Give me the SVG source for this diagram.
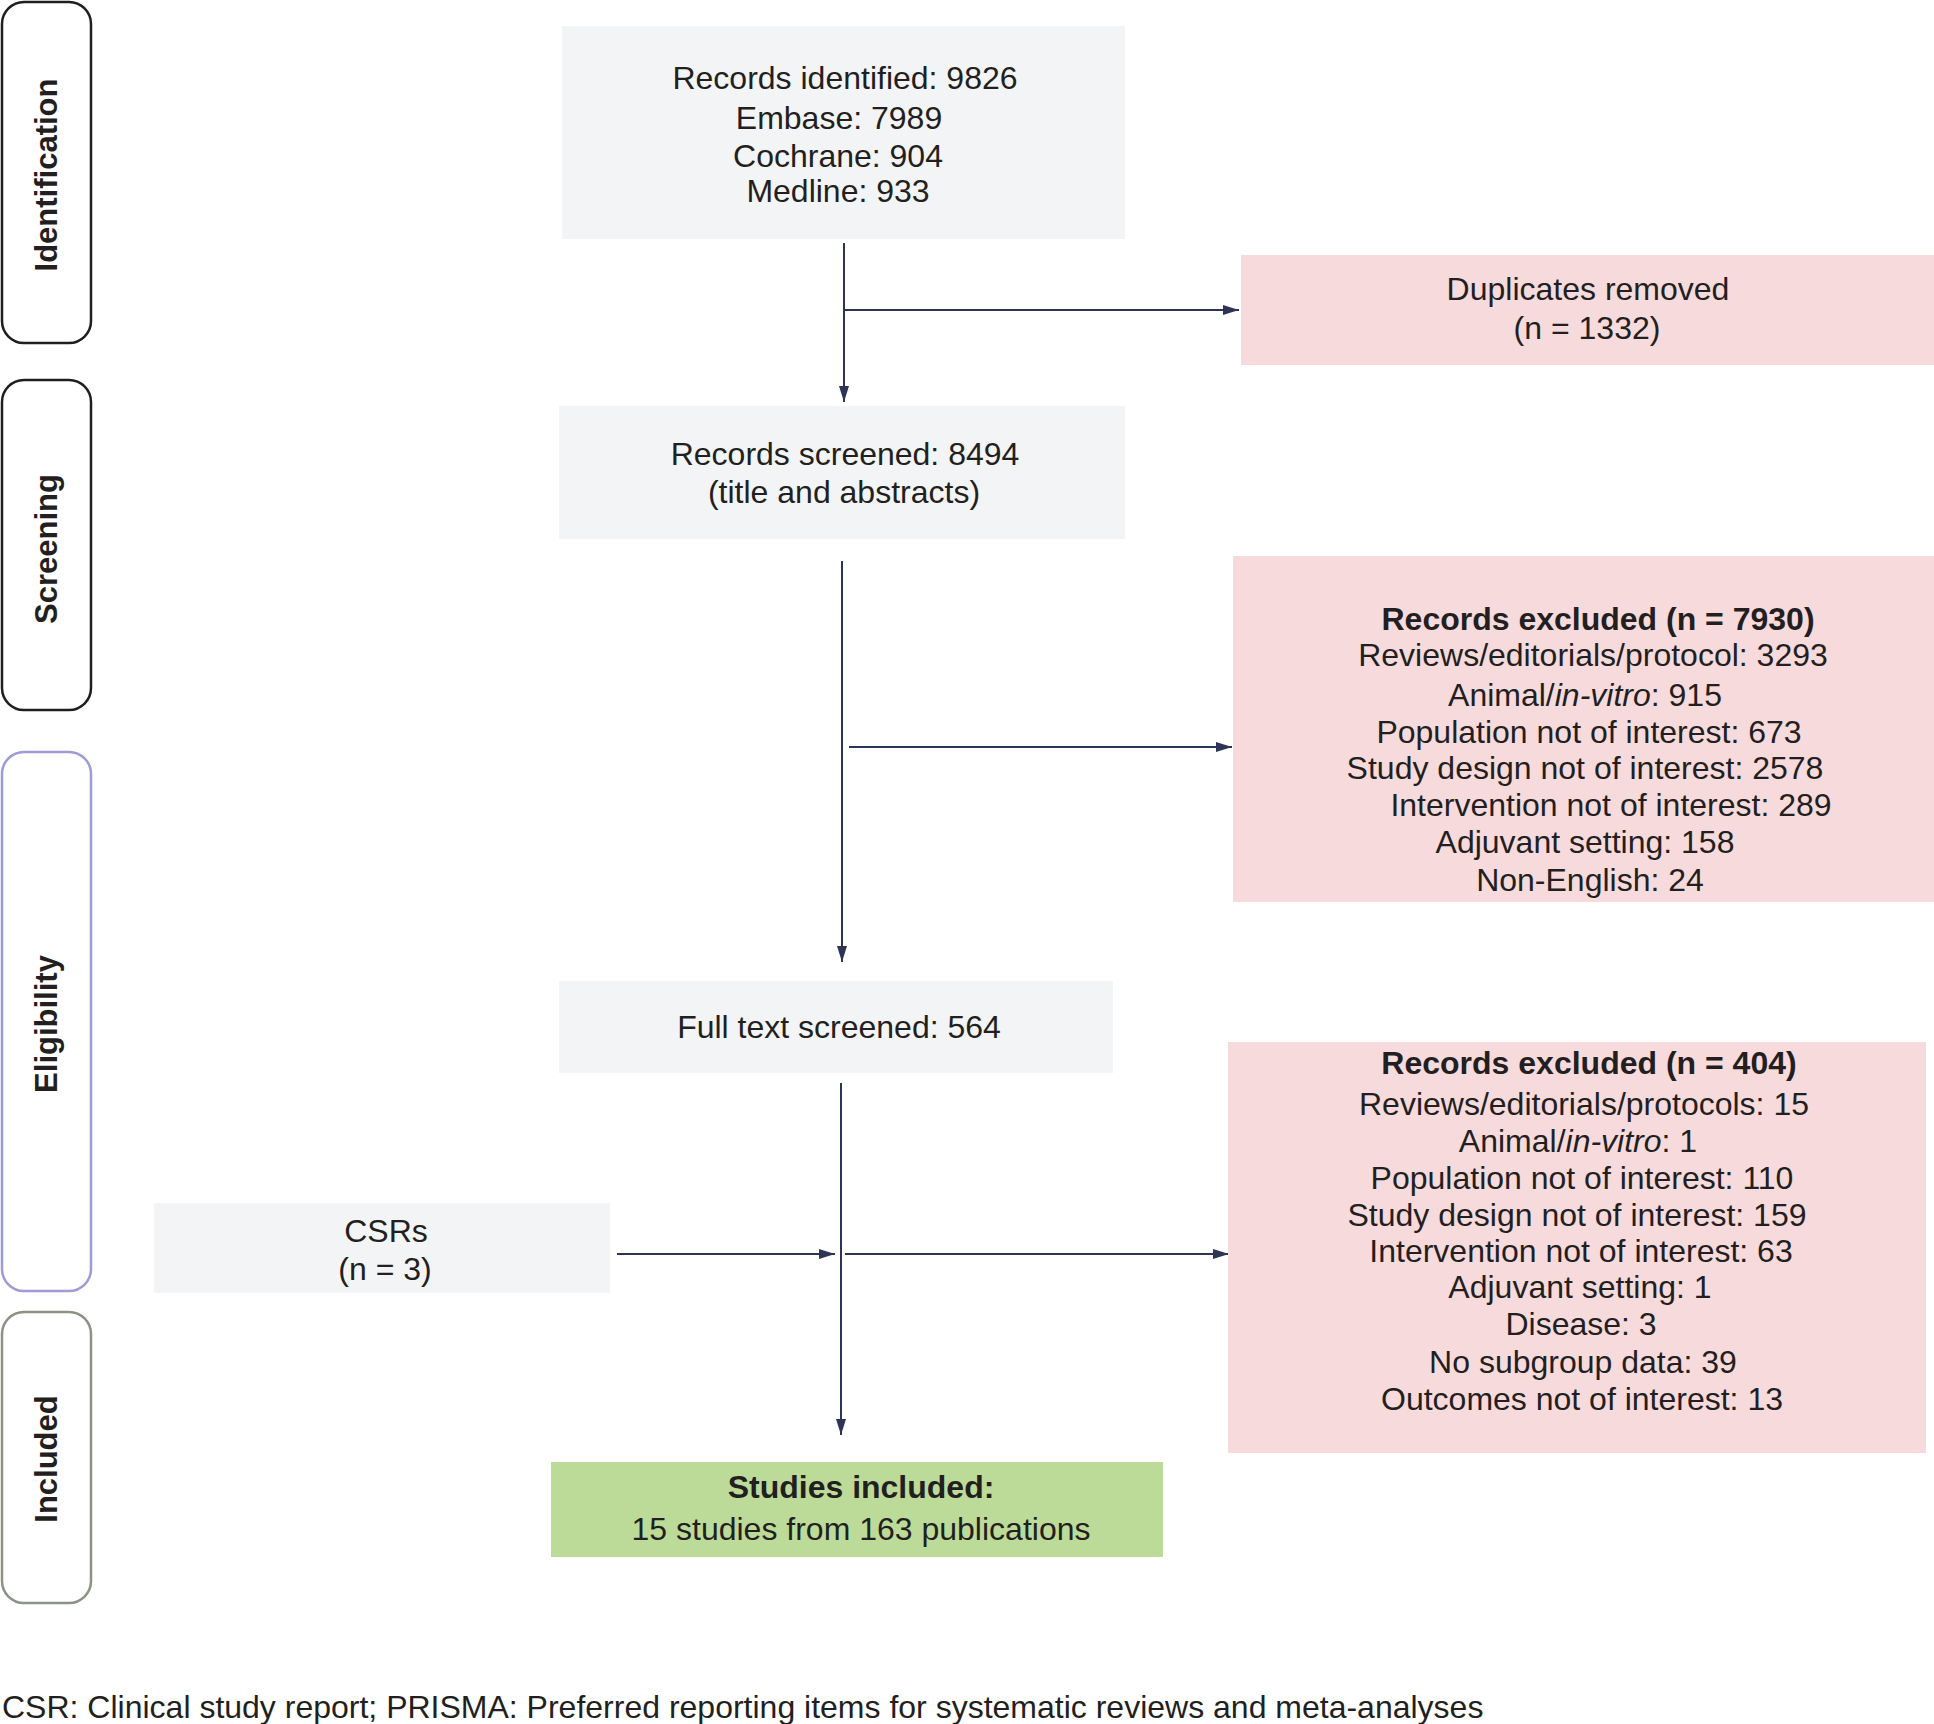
<svg xmlns="http://www.w3.org/2000/svg" width="1934" height="1724" viewBox="0 0 1934 1724">
<style>
text{font-family:"Liberation Sans",Arial,sans-serif;font-size:32px;fill:#231f20;text-anchor:middle}
.b{font-weight:bold}
.ph{font-weight:bold;font-size:31px}
.phase{fill:#fff;stroke-width:2.5}
.gray{fill:#f3f4f6}
.pink{fill:#f7dadc}
.green{fill:#bddb98}
.conn{stroke:#2e3456;stroke-width:2;fill:none}
.it{font-style:italic}
</style>
<defs>
<marker id="ah" markerUnits="userSpaceOnUse" markerWidth="17" markerHeight="11" refX="16" refY="5" orient="auto">
<path d="M0,0 L16,5 L0,10 z" fill="#2e3456"/>
</marker>
</defs>
<g id="phase-identification">
<rect class="phase" x="2" y="2" width="89" height="341" rx="22" stroke="#1f1f1f"/>
<text class="ph" transform="translate(57,175) rotate(-90)">Identification</text>
</g>
<g id="phase-screening">
<rect class="phase" x="2" y="380" width="89" height="330" rx="22" stroke="#1f1f1f"/>
<text class="ph" transform="translate(57,549) rotate(-90)">Screening</text>
</g>
<g id="phase-eligibility">
<rect class="phase" x="2" y="752" width="89" height="539" rx="22" stroke="#9d9bd8"/>
<text class="ph" transform="translate(57,1024) rotate(-90)">Eligibility</text>
</g>
<g id="phase-included">
<rect class="phase" x="2" y="1312" width="89" height="291" rx="22" stroke="#8c9284"/>
<text class="ph" transform="translate(57,1459) rotate(-90)">Included</text>
</g>
<g id="connectors">
<line class="conn" x1="844" y1="243" x2="844" y2="402" marker-end="url(#ah)"/>
<line class="conn" x1="844" y1="310" x2="1239" y2="310" marker-end="url(#ah)"/>
<line class="conn" x1="842" y1="561" x2="842" y2="962" marker-end="url(#ah)"/>
<line class="conn" x1="849" y1="747" x2="1232" y2="747" marker-end="url(#ah)"/>
<line class="conn" x1="841" y1="1083" x2="841" y2="1435" marker-end="url(#ah)"/>
<line class="conn" x1="617" y1="1254" x2="835" y2="1254" marker-end="url(#ah)"/>
<line class="conn" x1="845" y1="1254" x2="1229" y2="1254" marker-end="url(#ah)"/>
</g>
<g id="node-identified">
<rect class="gray" x="562" y="26" width="563" height="213"/>
<text x="845" y="89">Records identified: 9826</text>
<text x="839" y="129">Embase: 7989</text>
<text x="838" y="167">Cochrane: 904</text>
<text x="838" y="202">Medline: 933</text>
</g>
<g id="node-duplicates">
<rect class="pink" x="1241" y="255" width="693" height="110"/>
<text x="1588" y="300">Duplicates removed</text>
<text x="1587" y="339">(n = 1332)</text>
</g>
<g id="node-screened">
<rect class="gray" x="559" y="406" width="566" height="133"/>
<text x="845" y="465">Records screened: 8494</text>
<text x="844" y="503">(title and abstracts)</text>
</g>
<g id="node-excluded-1">
<rect class="pink" x="1233" y="556" width="701" height="346"/>
<text class="b" x="1598" y="630">Records excluded (n = 7930)</text>
<text x="1593" y="666">Reviews/editorials/protocol: 3293</text>
<text x="1585" y="706">Animal/<tspan class="it">in-vitro</tspan>: 915</text>
<text x="1589" y="743">Population not of interest: 673</text>
<text x="1585" y="779">Study design not of interest: 2578</text>
<text x="1611" y="816">Intervention not of interest: 289</text>
<text x="1585" y="853">Adjuvant setting: 158</text>
<text x="1590" y="891">Non-English: 24</text>
</g>
<g id="node-fulltext">
<rect class="gray" x="559" y="981" width="554" height="92"/>
<text x="839" y="1038">Full text screened: 564</text>
</g>
<g id="node-excluded-2">
<rect class="pink" x="1228" y="1042" width="698" height="411"/>
<text class="b" x="1589" y="1074">Records excluded (n = 404)</text>
<text x="1584" y="1115">Reviews/editorials/protocols: 15</text>
<text x="1578" y="1152">Animal/<tspan class="it">in-vitro</tspan>: 1</text>
<text x="1582" y="1189">Population not of interest: 110</text>
<text x="1577" y="1226">Study design not of interest: 159</text>
<text x="1581" y="1262">Intervention not of interest: 63</text>
<text x="1580" y="1298">Adjuvant setting: 1</text>
<text x="1581" y="1335">Disease: 3</text>
<text x="1583" y="1373">No subgroup data: 39</text>
<text x="1582" y="1410">Outcomes not of interest: 13</text>
</g>
<g id="node-csrs">
<rect class="gray" x="154" y="1203" width="456" height="90"/>
<text x="386" y="1242">CSRs</text>
<text x="385" y="1280">(n = 3)</text>
</g>
<g id="node-included">
<rect class="green" x="551" y="1462" width="612" height="95"/>
<text class="b" x="861" y="1498">Studies included:</text>
<text x="861" y="1540">15 studies from 163 publications</text>
</g>
<g id="footnote">
<text x="2" y="1718" style="text-anchor:start">CSR: Clinical study report; PRISMA: Preferred reporting items for systematic reviews and meta-analyses</text>
</g>
</svg>
